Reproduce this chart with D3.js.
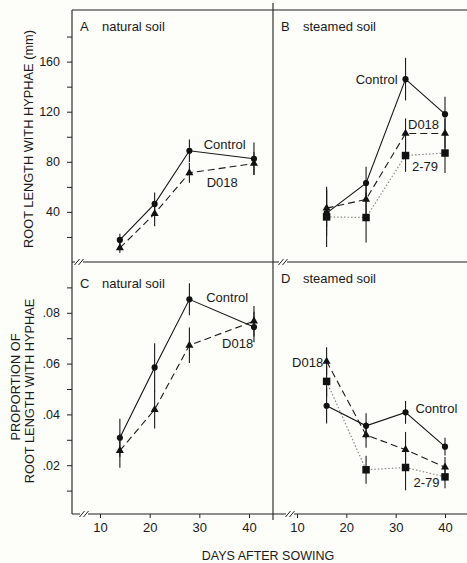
<!DOCTYPE html>
<meta charset="utf-8">
<script src="https://cdn.jsdelivr.net/npm/d3@7"></script>
<style>
body { margin: 0; background: #fdfdfa; }
svg { font-family: "Liberation Sans", Arial, sans-serif; }
.axis path { display: none; }
.axis line { stroke: #222; }
.axis text { font-size: 12.5px; fill: #1a1a1a; }
.xaxis text { font-size: 13px; }
.frame { stroke: #222; stroke-width: 1.1; fill: none; }
</style>
<div id="vis"></div>
<script>
// days of harvest
var daysNatural = [14, 21, 28, 41];
var daysSteamed = [16, 24, 32, 40];

// A: root length with hyphae (mm), natural soil
var rootNatControl = [17.6, 46.4, 88.8, 82.4];
var rootNatControlErr = [5, 9, 9, 13];
var rootNatD018 = [11.2, 38.6, 71.2, 78.6];
var rootNatD018Err = [4, 10, 8, 9];

// B: root length with hyphae (mm), steamed soil
var rootSteControl = [39, 63, 146, 118];
var rootSteControlErr = [18, 13, 17, 14];
var rootSteD018 = [43, 50, 102.6, 102.6];
var rootSteD018Err = [15, 12, 12, 12];
var rootSte279 = [36, 35.5, 85, 87];
var rootSte279Err = [24, 20, 13, 16];

// C: proportion of root length with hyphae, natural soil
var propNatControl = [0.0308, 0.0585, 0.0853, 0.0744];
var propNatControlErr = [0.0075, 0.0095, 0.0063, 0.006];
var propNatD018 = [0.0257, 0.0419, 0.0672, 0.0767];
var propNatD018Err = [0.0067, 0.0075, 0.007, 0.006];

// D: proportion of root length with hyphae, steamed soil
var propSteControl = [0.0434, 0.0355, 0.0408, 0.0273];
var propSteControlErr = [0.007, 0.005, 0.0045, 0.0035];
var propSteD018 = [0.0609, 0.0319, 0.0261, 0.0192];
var propSteD018Err = [0.0055, 0.005, 0.007, 0.004];
var propSte279 = [0.053, 0.0182, 0.0191, 0.0154];
var propSte279Err = [0.006, 0.0055, 0.009, 0.0045];

// axis ticks
var rootTicks = [20, 40, 60, 80, 100, 120, 140, 160, 180];
var rootLabels = [40, 80, 120, 160];
var propTicks = [0.01, 0.02, 0.03, 0.04, 0.05, 0.06, 0.07, 0.08, 0.09];
var propLabels = [0.02, 0.04, 0.06, 0.08];
var dayTicks = [10, 20, 30, 40];

var width = 467, height = 563;
var frameL = 72, frameM = 273, frameR = 467, frameT = 10, frameMY = 262, frameB = 515;

var svg = d3.select("#vis").append("svg")
    .attr("width", width)
    .attr("height", height);

// scales
var xNat = d3.scaleLinear().domain([10, 40]).range([100, 249]);
var xSte = d3.scaleLinear().domain([10, 40]).range([297, 445]);
var yRoot = d3.scaleLinear().domain([0, 200]).range([262, 11.5]);
var yProp = d3.scaleLinear().domain([0, 0.1]).range([516, 262]);

var styles = {
  control: {dash: null, color: "#151515", width: 1.1, symbol: d3.symbolCircle, size: 30},
  d018: {dash: "7,4", color: "#1a1a1a", width: 1.1, symbol: d3.symbolTriangle, size: 28},
  s279: {dash: "1.5,2", color: "#8a8a8a", width: 1.2, symbol: d3.symbolSquare, size: 56}
};

var panels = [
  {x: xNat, y: yRoot, days: daysNatural, letter: "A", title: "natural soil", lx: 80, ly: 31,
   series: [
     {key: "control", v: rootNatControl, e: rootNatControlErr},
     {key: "d018", v: rootNatD018, e: rootNatD018Err}],
   notes: [
     {t: "Control", d: 35.1, v: 90.5, a: "middle"},
     {t: "D018", d: 34.6, v: 60, a: "middle"}]},
  {x: xSte, y: yRoot, days: daysSteamed, letter: "B", title: "steamed soil", lx: 281, ly: 31,
   series: [
     {key: "s279", v: rootSte279, e: rootSte279Err},
     {key: "d018", v: rootSteD018, e: rootSteD018Err},
     {key: "control", v: rootSteControl, e: rootSteControlErr}],
   notes: [
     {t: "Control", d: 30.4, v: 142, a: "end"},
     {t: "D018", d: 32.5, v: 106, a: "start"},
     {t: "2-79", d: 33.3, v: 73, a: "start"}]},
  {x: xNat, y: yProp, days: daysNatural, letter: "C", title: "natural soil", lx: 80, ly: 288,
   series: [
     {key: "control", v: propNatControl, e: propNatControlErr},
     {key: "d018", v: propNatD018, e: propNatD018Err}],
   notes: [
     {t: "Control", d: 35.6, v: 0.0841, a: "middle"},
     {t: "D018", d: 37.7, v: 0.0663, a: "middle"}]},
  {x: xSte, y: yProp, days: daysSteamed, letter: "D", title: "steamed soil", lx: 281, ly: 283,
   series: [
     {key: "s279", v: propSte279, e: propSte279Err},
     {key: "d018", v: propSteD018, e: propSteD018Err},
     {key: "control", v: propSteControl, e: propSteControlErr}],
   notes: [
     {t: "D018", d: 15.3, v: 0.0588, a: "end"},
     {t: "Control", d: 34.0, v: 0.0406, a: "start"},
     {t: "2-79", d: 33.6, v: 0.0113, a: "start"}]}
];

// frame
svg.append("path").attr("class", "frame")
  .attr("d", "M" + frameL + "," + frameT + "H" + frameR +
             "M" + frameL + "," + frameMY + "H" + frameR +
             "M" + frameL + "," + (frameB - 1) + "H" + frameR +
             "M" + frameL + "," + frameT + "V" + (frameB - 1) +
             "M" + frameM + ",3V" + (frameB + 5));

// y axes
svg.append("g").attr("class", "axis")
  .attr("transform", "translate(" + frameL + ",0)")
  .call(d3.axisLeft(yRoot).tickValues(rootTicks).tickSize(5).tickPadding(7)
    .tickFormat(function(d) { return rootLabels.indexOf(d) >= 0 ? d : ""; }));

svg.append("g").attr("class", "axis")
  .attr("transform", "translate(" + frameL + ",0)")
  .call(d3.axisLeft(yProp).tickValues(propTicks).tickSize(5).tickPadding(7)
    .tickFormat(function(d) {
      return propLabels.some(function(p) { return Math.abs(p - d) < 1e-9; })
        ? d3.format(".2f")(d).replace(/^0/, "") : "";
    }));

// x axes
svg.append("g").attr("class", "axis xaxis")
  .attr("transform", "translate(0," + (frameB - 1) + ")")
  .call(d3.axisBottom(xNat).tickValues(dayTicks).tickSize(4).tickPadding(5));
svg.append("g").attr("class", "axis xaxis")
  .attr("transform", "translate(0," + (frameB - 1) + ")")
  .call(d3.axisBottom(xSte).tickValues(dayTicks).tickSize(4).tickPadding(5));

// axis breaks
[[84, frameB - 1], [290, frameB - 1], [79, frameMY], [283, frameMY]].forEach(function(b) {
  var g = svg.append("g").attr("transform", "translate(" + b[0] + "," + b[1] + ")");
  g.append("rect").attr("x", -4).attr("y", -2).attr("width", 8).attr("height", 4).attr("fill", "#fdfdfa");
  [-2, 2].forEach(function(o) {
    g.append("line").attr("x1", o - 2.5).attr("y1", 3).attr("x2", o + 2.5).attr("y2", -3)
      .attr("stroke", "#222").attr("stroke-width", 1);
  });
});

// panels
panels.forEach(function(p) {
  var g = svg.append("g");

  g.append("text").attr("x", p.lx).attr("y", p.ly)
    .attr("font-size", "13px").attr("fill", "#1a1a1a")
    .text(p.letter);
  g.append("text").attr("x", p.lx + 22).attr("y", p.ly)
    .attr("font-size", "13px").attr("fill", "#1a1a1a")
    .text(p.title);

  p.series.forEach(function(s) {
    var st = styles[s.key];
    var pts = p.days.map(function(d, i) { return {d: d, v: s.v[i], e: s.e[i]}; });

    g.selectAll(null).data(pts).enter().append("line")
      .attr("x1", function(d) { return p.x(d.d); })
      .attr("x2", function(d) { return p.x(d.d); })
      .attr("y1", function(d) { return p.y(d.v - d.e); })
      .attr("y2", function(d) { return p.y(d.v + d.e); })
      .attr("stroke", "#1a1a1a").attr("stroke-width", 1.1);

    g.append("path").datum(pts)
      .attr("fill", "none")
      .attr("stroke", st.color)
      .attr("stroke-width", st.width)
      .attr("stroke-dasharray", st.dash)
      .attr("d", d3.line().x(function(d) { return p.x(d.d); }).y(function(d) { return p.y(d.v); }));

    g.selectAll(null).data(pts).enter().append("path")
      .attr("transform", function(d) { return "translate(" + p.x(d.d) + "," + p.y(d.v) + ")"; })
      .attr("d", d3.symbol().type(st.symbol).size(st.size))
      .attr("fill", "#111");
  });

  g.selectAll(null).data(p.notes).enter().append("text")
    .attr("x", function(d) { return p.x(d.d); })
    .attr("y", function(d) { return p.y(d.v); })
    .attr("text-anchor", function(d) { return d.a; })
    .attr("font-size", "13px").attr("fill", "#1a1a1a")
    .text(function(d) { return d.t; });
});

// axis titles
svg.append("text")
  .attr("transform", "translate(33,139) rotate(-90)")
  .attr("text-anchor", "middle").attr("font-size", "12.8px").attr("fill", "#1a1a1a")
  .text("ROOT LENGTH WITH HYPHAE (mm)");
svg.append("text")
  .attr("transform", "translate(20,387) rotate(-90)")
  .attr("text-anchor", "middle").attr("font-size", "12.8px").attr("fill", "#1a1a1a")
  .text("PROPORTION OF");
svg.append("text")
  .attr("transform", "translate(34,391) rotate(-90)")
  .attr("text-anchor", "middle").attr("font-size", "12.8px").attr("fill", "#1a1a1a")
  .text("ROOT LENGTH WITH HYPHAE");
svg.append("text")
  .attr("x", 268).attr("y", 560)
  .attr("text-anchor", "middle").attr("font-size", "12.5px").attr("fill", "#1a1a1a")
  .text("DAYS AFTER SOWING");
</script>
